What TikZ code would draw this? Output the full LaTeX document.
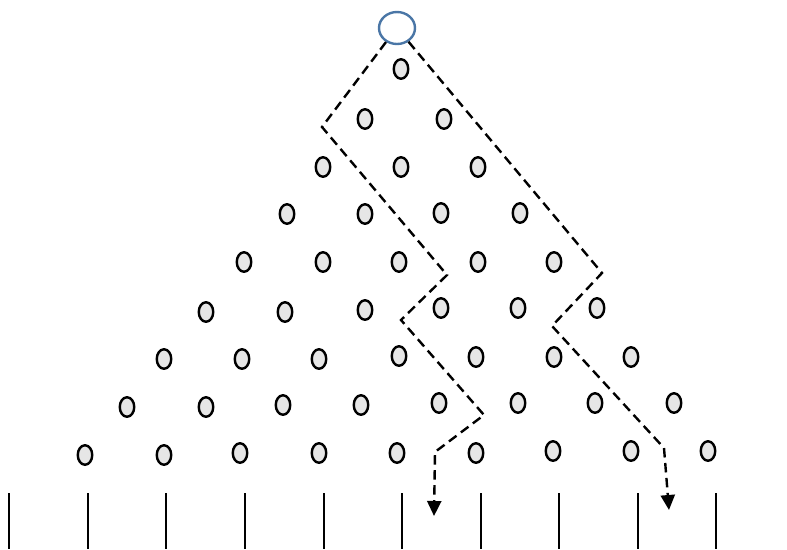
\documentclass[tikz,border=0pt]{standalone}
\usetikzlibrary{arrows.meta,shapes.geometric}
\definecolor{pegfill}{HTML}{E6E6E6}
\definecolor{ballblue}{HTML}{4A76A6}
\begin{document}
\begin{tikzpicture}[x=1pt,y=-1pt,
  peg/.style={shape=ellipse,draw=black,fill=pegfill,line width=2.4pt,
              minimum width=14.5pt,minimum height=19.5pt,inner sep=0pt},
  ball/.style={shape=ellipse,draw=ballblue,line width=2.4pt,
               minimum width=36pt,minimum height=32pt,inner sep=0pt},
  bin/.style={line width=1.7pt},
  route/.style={dash pattern=on 9.5pt off 5.5pt,line width=2.4pt},
  tip/.style={-{Triangle[length=15pt,width=14pt]}}]
\useasboundingbox (0,0) rectangle (787,549);

% falling ball
\node[ball] (top) at (397,28) {};

% pegs, row by row
\foreach \x/\y [count=\i] in {
  401/69,
  365/119, 444/119,
  323/167, 401/167, 478/167,
  287/214, 365/214, 441/213, 520/213,
  244/262, 323/262, 399/262, 478/262, 554/262,
  206/312, 285/312, 365/310, 441/308, 518/308, 597/308,
  164/359, 242/359, 319/359, 399/356, 476/357, 554/357, 631/357,
  127/407, 206/407, 283/405, 361/405, 439/403, 518/403, 595/403, 674/403,
  85/455, 164/455, 240/453, 319/453, 397/453, 476/453, 553/451, 631/451, 708/451}
  \node[peg] (p\i) at (\x,\y) {};

% bin walls
\foreach \x in {9,88,166,245,324,402,481,559,638,716}
  \draw[bin] (\x,493) -- (\x,549);

% bend points of the two sample paths
\coordinate (a1) at (322,127);
\coordinate (a2) at (447,275);
\coordinate (a3) at (401,320);
\coordinate (a4) at (484,415);
\coordinate (a5) at (435,452);
\coordinate (a6) at (434,516);

\coordinate (b1) at (602,273);
\coordinate (b2) at (552,326);
\coordinate (b3) at (664,448);
\coordinate (b4) at (669,510);

\draw[route,tip] (top.232) -- (a1) -- (a2) -- (a3) -- (a4) -- (a5) -- (a6);
\draw[route,tip] (top.-50) -- (b1) -- (b2) -- (b3) -- (b4);
\end{tikzpicture}
\end{document}
